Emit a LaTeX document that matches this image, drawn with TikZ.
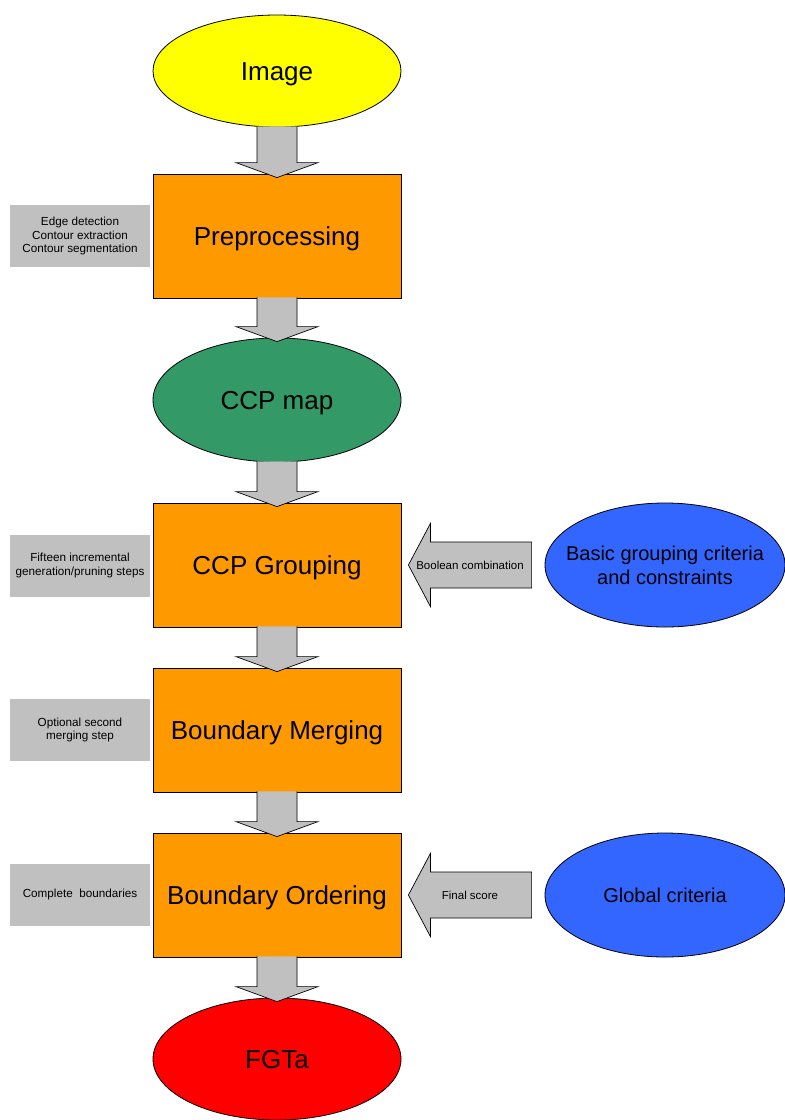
\documentclass[tikz,border=0pt]{standalone}
\usepackage{fontspec}
\setmainfont{Liberation Sans}
\usetikzlibrary{shapes.geometric,calc}
\definecolor{cyel}{HTML}{FFFF00}
\definecolor{corange}{HTML}{FF9900}
\definecolor{cgreen}{HTML}{339966}
\definecolor{cblue}{HTML}{3366FF}
\definecolor{cred}{HTML}{FF0000}
\definecolor{cgray}{HTML}{C0C0C0}
\newcommand\fatdown[2]{%
  \draw[fatarrow] ($(#1.south)+(-20,-1)$) -- ($(#2.north)+(-20,-11)$) -- ($(#2.north)+(-41,-11)$) -- ($(#2.north)+(0,4)$) -- ($(#2.north)+(41,-11)$) -- ($(#2.north)+(20,-11)$) -- ($(#1.south)+(20,-1)$);}
\newcommand\fatleft[4]{%
  \draw[fatarrow] ($(#1.west)+(-13,-23)$) -- ($(#2.east)+(29,-23)$) -- ($(#2.east)+(29,-41.5)$) -- ($(#2.east)+(7,0)$) -- ($(#2.east)+(29,41.5)$) -- ($(#2.east)+(29,23)$) -- ($(#1.west)+(-13,23)$) -- cycle;
  \node[arrowlabel] (#3) at ($(#1.west)!0.5!(#2.east)+(-3,0)$) {#4};}
\begin{document}
\begin{tikzpicture}[x=1pt,y=-1pt,
  mainfont/.style={font=\fontsize{26}{31}\selectfont,text height=20pt,text depth=0.4pt},
  bigell/.style={ellipse,draw=black,line width=0.8pt,minimum width=248pt,minimum height=112pt,inner sep=0pt,mainfont},
  stagebox/.style={rectangle,draw=black,line width=0.8pt,fill=corange,minimum width=248pt,minimum height=124pt,inner sep=0pt,mainfont},
  sidebox/.style={rectangle,fill=cgray,minimum width=140pt,minimum height=62pt,inner sep=0pt,align=center,font=\fontsize{11.7}{13.5}\selectfont},
  critell/.style={ellipse,draw=black,line width=0.8pt,fill=cblue,minimum width=240pt,minimum height=124pt,inner xsep=-20pt,inner ysep=0pt,align=center,font=\fontsize{20}{24}\selectfont},
  arrowlabel/.style={inner sep=0pt,font=\fontsize{11.5}{13.5}\selectfont},
  fatarrow/.style={draw=black,line width=0.7pt,fill=cgray,line join=miter}]
\useasboundingbox (0,0) rectangle (785,1120);
% main column
\node[bigell,fill=cyel] (img) at (277,71) {Image};
\node[stagebox] (pre) at (277,236) {Preprocessing};
\node[bigell,fill=cgreen,minimum height=124pt] (ccp) at (277,400) {CCP map};
\node[stagebox] (grp) at (277,565) {CCP Grouping};
\node[stagebox] (mrg) at (277,730) {Boundary Merging};
\node[stagebox] (ord) at (277,895) {Boundary Ordering};
\node[bigell,fill=cred,minimum height=122pt] (fgt) at (277,1059) {FGTa};
% side notes
\node[sidebox] (n1) at (80,236) {Edge detection\\Contour extraction\\Contour segmentation};
\node[sidebox] (n2) at (80,565.5) {Fifteen incremental\\generation/pruning steps};
\node[sidebox] (n3) at (80,730) {Optional second\\merging step};
\node[sidebox] (n4) at (80,894.5) {Complete\ \ boundaries};
% criteria
\node[critell] (basic) at (665,565) {Basic grouping criteria\\and constraints};
\node[critell] (glob) at (665,895) {Global criteria};
% arrows
\fatdown{img}{pre}
\fatdown{pre}{ccp}
\fatdown{ccp}{grp}
\fatdown{grp}{mrg}
\fatdown{mrg}{ord}
\fatdown{ord}{fgt}
\fatleft{basic}{grp}{l1}{Boolean combination}
\fatleft{glob}{ord}{l2}{Final score}
\end{tikzpicture}
\end{document}
